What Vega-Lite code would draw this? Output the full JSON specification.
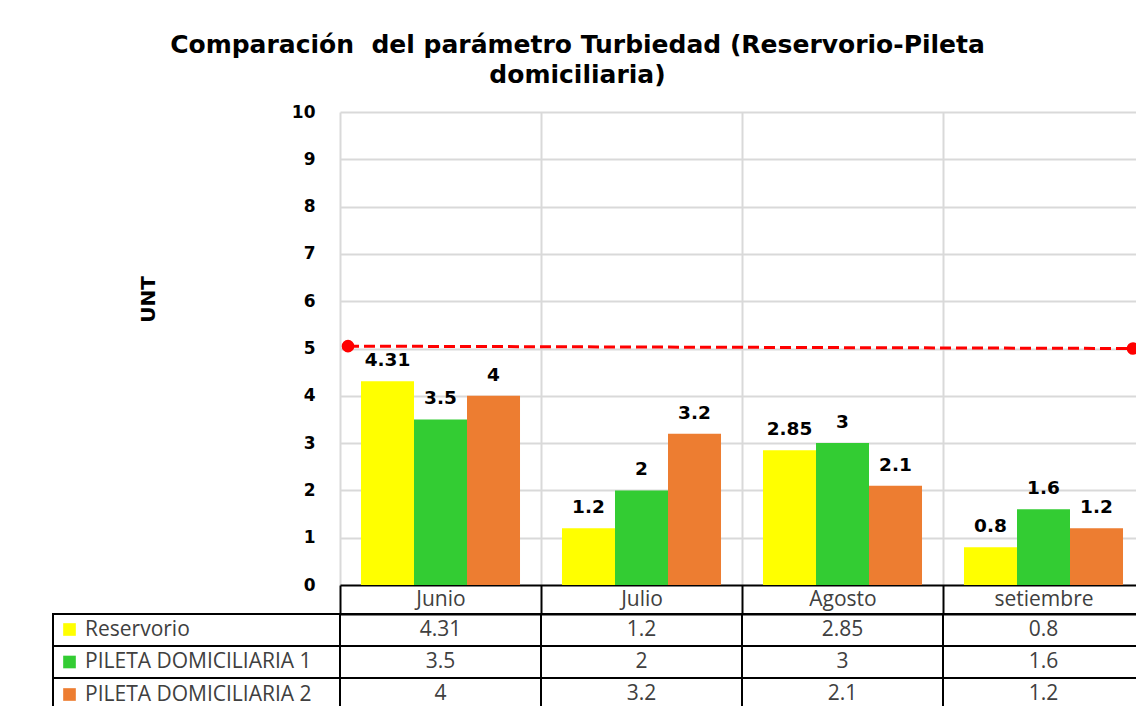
{
  "$schema": "https://vega.github.io/schema/vega-lite/v6.json",
  "padding": {"left": 52, "top": 33, "right": 0, "bottom": 0},
  "background": "white",
  "title": {
    "text": ["Comparación\u00a0 del parámetro Turbiedad (Reservorio-Pileta", "domiciliaria)"],
    "font": "DejaVu Sans", "fontSize": 25, "fontWeight": "bold", "color": "#000000",
    "lineHeight": 30, "anchor": "middle", "frame": "bounds", "dx": -21, "offset": 15
  },
  "datasets": {
    "turbiedad": [
      {"mes": "Junio", "serie": "Reservorio", "valor": 4.31},
      {"mes": "Junio", "serie": "PILETA DOMICILIARIA 1", "valor": 3.5},
      {"mes": "Junio", "serie": "PILETA DOMICILIARIA 2", "valor": 4},
      {"mes": "Julio", "serie": "Reservorio", "valor": 1.2},
      {"mes": "Julio", "serie": "PILETA DOMICILIARIA 1", "valor": 2},
      {"mes": "Julio", "serie": "PILETA DOMICILIARIA 2", "valor": 3.2},
      {"mes": "Agosto", "serie": "Reservorio", "valor": 2.85},
      {"mes": "Agosto", "serie": "PILETA DOMICILIARIA 1", "valor": 3},
      {"mes": "Agosto", "serie": "PILETA DOMICILIARIA 2", "valor": 2.1},
      {"mes": "setiembre", "serie": "Reservorio", "valor": 0.8},
      {"mes": "setiembre", "serie": "PILETA DOMICILIARIA 1", "valor": 1.6},
      {"mes": "setiembre", "serie": "PILETA DOMICILIARIA 2", "valor": 1.2}
    ],
    "limite": [
      {"punto": 0, "limite": 5.05},
      {"punto": 1, "limite": 5.0}
    ]
  },
  "columns": 2,
  "spacing": {"row": 29, "column": 0},
  "bounds": "flush",
  "resolve": {"legend": {"color": "independent"}},
  "concat": [
    {
      "width": 287, "height": 473,
      "data": {"values": [{"t": ""}]},
      "mark": {"type": "text"},
      "encoding": {"text": {"field": "t"}}
    },
    {
      "width": 804, "height": 473,
      "resolve": {"scale": {"x": "independent"}},
      "layer": [
        {
          "data": {"name": "turbiedad"},
          "encoding": {
            "x": {
              "field": "mes", "type": "nominal", "sort": ["Junio", "Julio", "Agosto", "setiembre"],
              "scale": {"paddingInner": 0, "paddingOuter": 0},
              "axis": {"title": null, "labels": false, "ticks": false, "grid": true, "tickBand": "extent",
                       "gridColor": "#d9d9d9", "gridWidth": 2, "domain": true, "domainColor": "#000000", "domainWidth": 2}
            },
            "xOffset": {"field": "serie", "type": "nominal", "sort": ["Reservorio", "PILETA DOMICILIARIA 1", "PILETA DOMICILIARIA 2"], "scale": {"paddingInner": 0, "paddingOuter": 0.396}},
            "y": {
              "field": "valor", "type": "quantitative", "scale": {"domain": [0, 10], "nice": false},
              "axis": {"title": "UNT", "titleFont": "DejaVu Sans", "titleFontSize": 20, "titleFontWeight": "bold", "titleColor": "#000000", "titlePadding": 133, "titleY": 187,
                       "labelFont": "DejaVu Sans", "labelFontSize": 17, "labelFontWeight": "bold", "labelColor": "#000000", "labelPadding": 25,
                       "ticks": false, "domain": false, "grid": true, "tickCount": 10,
                       "gridColor": {"condition": {"test": "datum.value === 0", "value": "transparent"}, "value": "#d9d9d9"}, "gridWidth": 2}
            }
          },
          "layer": [
            {
              "mark": {"type": "bar"},
              "encoding": {
                "color": {
                  "field": "serie", "type": "nominal",
                  "scale": {"domain": ["Reservorio", "PILETA DOMICILIARIA 1", "PILETA DOMICILIARIA 2"], "range": ["#FFFF00", "#33CC33", "#ED7D31"]},
                  "legend": {"orient": "none", "legendX": -281, "legendY": 507, "direction": "vertical", "title": null,
                             "symbolType": "square", "symbolSize": 160, "symbolStrokeWidth": 0, "symbolOpacity": 1,
                             "labelFont": "Open Sans", "labelFontSize": 21, "labelColor": "#404040", "labelOffset": 5,
                             "labelLimit": 400, "rowPadding": 10.5, "padding": 0}
                }
              }
            },
            {
              "mark": {"type": "text", "font": "DejaVu Sans", "fontWeight": "bold", "fontSize": 18.5, "baseline": "alphabetic", "dy": -15, "color": "#000000"},
              "encoding": {"text": {"field": "valor", "type": "quantitative"}}
            }
          ]
        },
        {
          "data": {"name": "limite"},
          "encoding": {
            "x": {"field": "punto", "type": "quantitative", "scale": {"domain": [-0.0102, 1.014], "nice": false, "zero": false}, "axis": null},
            "y": {"field": "limite", "type": "quantitative"}
          },
          "layer": [
            {"mark": {"type": "line", "color": "#FF0000", "strokeWidth": 3, "strokeDash": [11, 5]}},
            {"mark": {"type": "circle", "color": "#FF0000", "size": 160, "opacity": 1}}
          ]
        }
      ]
    },
    {
      "width": 287, "height": 96,
      "data": {"name": "turbiedad"},
      "mark": {"type": "rect", "fill": "transparent", "stroke": "#000000", "strokeWidth": 2},
      "encoding": {
        "y": {"field": "serie", "type": "nominal", "sort": ["Reservorio", "PILETA DOMICILIARIA 1", "PILETA DOMICILIARIA 2"], "scale": {"paddingInner": 0, "paddingOuter": 0}, "axis": null}
      }
    },
    {
      "width": 804, "height": 96,
      "data": {"name": "turbiedad"},
      "encoding": {
        "x": {
          "field": "mes", "type": "nominal", "sort": ["Junio", "Julio", "Agosto", "setiembre"],
          "scale": {"paddingInner": 0, "paddingOuter": 0},
          "axis": {"orient": "top", "title": null, "tickBand": "extent", "ticks": true, "tickSize": 29, "tickColor": "#000000", "tickWidth": 2,
                   "domain": true, "domainColor": "#000000", "domainWidth": 2, "labelFont": "Open Sans", "labelFontSize": 21, "labelColor": "#404040",
                   "labelAngle": 0, "labelBaseline": "middle", "labelPadding": -14.5, "grid": false}
        },
        "y": {"field": "serie", "type": "nominal", "sort": ["Reservorio", "PILETA DOMICILIARIA 1", "PILETA DOMICILIARIA 2"], "scale": {"paddingInner": 0, "paddingOuter": 0}, "axis": null}
      },
      "layer": [
        {"mark": {"type": "rect", "fill": "transparent", "stroke": "#000000", "strokeWidth": 2}},
        {"mark": {"type": "text", "font": "Open Sans", "fontSize": 21, "color": "#404040"}, "encoding": {"text": {"field": "valor", "type": "quantitative"}}}
      ]
    }
  ],
  "config": {"view": {"stroke": null}}
}
